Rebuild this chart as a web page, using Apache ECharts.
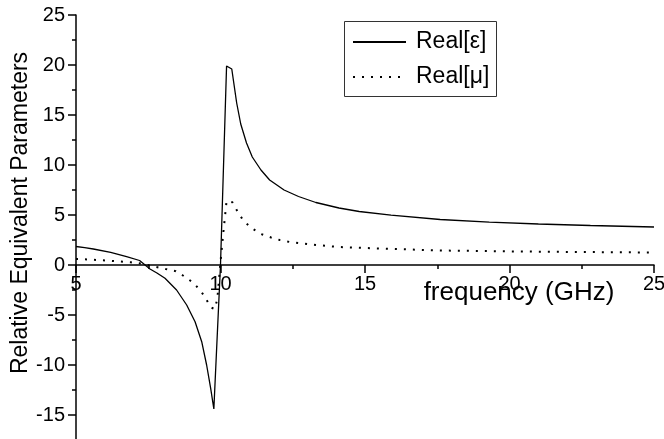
<!DOCTYPE html>
<html>
<head>
<meta charset="utf-8">
<script src="https://cdn.jsdelivr.net/npm/echarts@6/dist/echarts.min.js"></script>
<style>
html,body{margin:0;padding:0;background:#fff;}
#chart{width:664px;height:439px;}
</style>
</head>
<body>
<div id="chart"></div>
<script>
// ---- data ----
const freqEps = [5, 5.3, 5.6, 6.2, 6.75, 7.2, 7.56, 7.8, 8.08, 8.48, 8.83, 9.12, 9.35, 9.52, 9.66, 9.77, 10.0, 10.21, 10.39, 10.56, 10.7, 10.9, 11.1, 11.4, 11.7, 12.2, 12.7, 13.3, 14.1, 14.8, 15.9, 17.6, 19.3, 21, 22.8, 25];
const realEps = [1.85, 1.73, 1.6, 1.27, 0.83, 0.45, -0.4, -0.8, -1.33, -2.5, -4.0, -5.67, -7.67, -10.0, -12.33, -14.4, 0, 19.9, 19.6, 16.2, 14.1, 12.2, 10.8, 9.5, 8.5, 7.5, 6.85, 6.25, 5.7, 5.35, 4.98, 4.55, 4.28, 4.1, 3.95, 3.8];
const freqMu = [5, 5.3, 5.9, 6.4, 6.9, 7.3, 7.55, 8.1, 8.45, 8.7, 9.0, 9.3, 9.5, 9.67, 9.8, 9.89, 10.0, 10.1, 10.21, 10.41, 10.6, 10.8, 11.1, 11.4, 11.75, 12.05, 12.4, 12.7, 13.3, 14.1, 15.5, 17.6, 21, 25];
const realMu = [0.6, 0.57, 0.48, 0.38, 0.27, 0.13, -0.05, -0.4, -0.62, -1.05, -1.65, -2.5, -3.4, -4.25, -4.4, -3.4, 0.3, 3.3, 6.4, 6.27, 5.3, 4.4, 3.65, 3.1, 2.75, 2.5, 2.3, 2.2, 2.0, 1.8, 1.65, 1.45, 1.33, 1.25];
const seriesNames = ['Real[ε]', 'Real[μ]'];
const yTickValues = [-15, -10, -5, 0, 5, 10, 15, 20, 25];
const xName = 'frequency (GHz)';
const yName = 'Relative Equivalent Parameters';

const FONT = '"Liberation Sans", Arial, sans-serif';
const pair = (xs, ys) => xs.map((x, i) => [x, ys[i]]);

const Y_MIN = -17.5, Y_MAX = 25, GRID_TOP = 15, GRID_H = 425;
// x axis sits on y = 0: offset from grid bottom derived from the y scale
const zeroOffset = -GRID_H * (0 - Y_MIN) / (Y_MAX - Y_MIN);

const chart = echarts.init(document.getElementById('chart'), null, {renderer: 'canvas'});
chart.setOption({
  animation: false,
  backgroundColor: '#fff',
  grid: {left: 76, top: GRID_TOP, width: 578, height: GRID_H, containLabel: false, outerBoundsMode: 'none'},
  xAxis: {
    type: 'value', min: 5, max: 25, interval: 5, position: 'bottom', offset: zeroOffset,
    axisLine: {onZero: false, lineStyle: {color: '#000', width: 1.5}},
    axisTick: {show: true, inside: false, length: 8, lineStyle: {color: '#000', width: 1.5}},
    minorTick: {show: true, splitNumber: 2, length: 4, lineStyle: {color: '#000', width: 1.5}},
    axisLabel: {color: '#000', fontSize: 20, fontFamily: FONT, margin: 9, showMinLabel: true, showMaxLabel: true},
    splitLine: {show: false}
  },
  yAxis: [{
    type: 'value', min: Y_MIN, max: Y_MAX,
    axisLine: {show: true, lineStyle: {color: '#000', width: 1.5}},
    axisTick: {show: true, length: 8, customValues: yTickValues, lineStyle: {color: '#000', width: 1.5}},
    axisLabel: {color: '#000', fontSize: 20, fontFamily: FONT, margin: 11, customValues: yTickValues},
    splitLine: {show: false}
  }, {
    type: 'value', min: Y_MIN, max: Y_MAX, interval: 2.5, position: 'left',
    axisLine: {show: false},
    axisTick: {show: true, length: 4, lineStyle: {color: '#000', width: 1.5}},
    axisLabel: {show: false},
    splitLine: {show: false}
  }],
  legend: {
    orient: 'vertical', left: 352, top: 29, padding: 0,
    itemWidth: 53, itemHeight: 14, itemGap: 9,
    itemStyle: {opacity: 0},
    textStyle: {color: '#000', fontSize: 23, fontFamily: FONT, lineHeight: 26, padding: [0, 0, 0, 5]},
    data: seriesNames
  },
  graphic: [
    {type: 'rect', shape: {x: 344.5, y: 21.5, width: 152, height: 75}, style: {fill: 'none', stroke: '#333', lineWidth: 1}, z: 100},
    {type: 'text', x: 21, y: 213, rotation: Math.PI / 2, style: {text: yName, font: '23px ' + FONT, fill: '#000', textAlign: 'center', textVerticalAlign: 'middle'}},
    {type: 'text', x: 519, y: 293, style: {text: xName, font: '26px ' + FONT, fill: '#000', textAlign: 'center', textVerticalAlign: 'middle'}}
  ],
  series: [{
    name: seriesNames[0], type: 'line', data: pair(freqEps, realEps), symbol: 'none', smooth: false,
    lineStyle: {color: '#000', width: 1.3, type: 'solid'}, itemStyle: {color: '#000'}
  }, {
    name: seriesNames[1], type: 'line', data: pair(freqMu, realMu), symbol: 'none', smooth: false,
    lineStyle: {color: '#000', width: 2, type: [2, 7], cap: 'butt'}, itemStyle: {color: '#000'}
  }]
});
</script>
</body>
</html>
